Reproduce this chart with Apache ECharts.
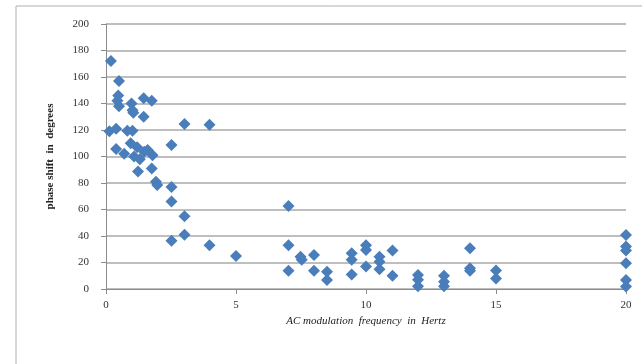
<!DOCTYPE html>
<html>
<head>
<meta charset="utf-8">
<script src="https://cdn.jsdelivr.net/npm/echarts@6/dist/echarts.min.js"></script>
<style>
  html, body { margin: 0; padding: 0; background: #fff; }
  #chart { width: 642px; height: 364px; }
</style>
</head>
<body>
<div id="chart"></div>
<script>
// AC modulation frequency (Hz) and the measured phase shift (deg)
const freqHz = [
  0.19, 0.5, 0.47, 0.44, 0.5, 0.98, 1.02, 1.05, 1.45, 1.76, 1.45, 3.02, 3.98,
  0.13, 0.39, 0.82, 1.02, 0.39, 2.52,
  0.95, 1.2, 1.47, 1.79, 0.7, 1.08, 1.3, 1.6,
  1.23, 1.76, 1.92, 1.97, 2.52, 2.52, 3.02, 3.02, 2.52, 3.98, 5.0,
  7.02, 7.02, 7.02, 7.48, 7.53, 8.0, 8.0, 8.5, 8.5,
  9.45, 9.45, 9.45, 10.0, 10.0, 10.0, 10.52, 10.52, 10.52, 11.02, 11.02,
  12.0, 12.0, 12.0, 13.0, 13.0, 13.0, 14.0, 14.0, 14.0, 15.0, 15.0,
  20, 20, 20, 20, 20, 20
];
const phaseDeg = [
  172, 157, 146, 142, 138, 140, 135, 133, 144, 142, 130, 124.5, 124,
  119, 121, 119.5, 119.5, 105.6, 108.7,
  110, 107, 103.6, 101, 102, 100, 98, 105,
  88.6, 91, 81, 78.5, 77, 66, 55, 41, 36.5, 33, 25,
  62.6, 33, 13.8, 24.4, 22, 25.7, 13.8, 13, 6.8,
  27, 22, 11, 33, 29.4, 17, 24.4, 20.6, 15, 29, 10,
  10.5, 7, 2, 10, 5.5, 2, 30.7, 15.6, 13.8, 14, 8,
  40.8, 32, 29, 19.4, 6.8, 1.8
];

const xTicks = [0, 5, 10, 15, 20];
const yTicks = [0, 20, 40, 60, 80, 100, 120, 140, 160, 180, 200];

const points = freqHz.map((f, i) => [f, phaseDeg[i]]);

const chart = echarts.init(document.getElementById('chart'));
const labelFont = 'Liberation Serif';

chart.setOption({
  backgroundColor: '#fff',
  animation: false,
  graphic: [{
    type: 'rect',
    shape: { x: 16, y: 6, width: 660, height: 380 },
    style: { fill: 'none', stroke: '#b0b0b0', lineWidth: 1 },
    silent: true
  }],
  grid: { left: 106, right: 16, top: 24, bottom: 75 },
  xAxis: {
    type: 'value',
    min: xTicks[0],
    max: xTicks[xTicks.length - 1],
    interval: 5,
    name: 'AC modulation  frequency  in  Hertz',
    nameLocation: 'middle',
    nameGap: 27,
    nameTextStyle: { fontFamily: labelFont, fontSize: 11, color: '#222', fontStyle: 'italic' },
    axisLine: { show: true, lineStyle: { color: '#8c8c8c', width: 1 } },
    axisTick: { show: true, length: 5, inside: false, lineStyle: { color: '#8c8c8c' } },
    axisLabel: { fontFamily: labelFont, fontSize: 11, color: '#333', margin: 11 },
    splitLine: { show: false }
  },
  yAxis: {
    type: 'value',
    min: yTicks[0],
    max: yTicks[yTicks.length - 1],
    interval: 20,
    name: 'phase shift  in  degrees',
    nameLocation: 'middle',
    nameGap: 50,
    nameRotate: 90,
    nameTextStyle: { fontFamily: labelFont, fontSize: 11, color: '#222', fontWeight: 'bold' },
    axisLine: { show: true, lineStyle: { color: '#8c8c8c', width: 1 } },
    axisTick: { show: true, length: 5, lineStyle: { color: '#8c8c8c' } },
    axisLabel: { fontFamily: labelFont, fontSize: 11, color: '#333', margin: 17 },
    splitLine: { show: true, lineStyle: { color: '#a8a8a8', width: 1.5 } }
  },
  series: [{
    type: 'scatter',
    data: points,
    symbol: 'diamond',
    symbolSize: 12,
    itemStyle: { color: '#4a7ebb', opacity: 1 }
  }]
});
</script>
</body>
</html>
